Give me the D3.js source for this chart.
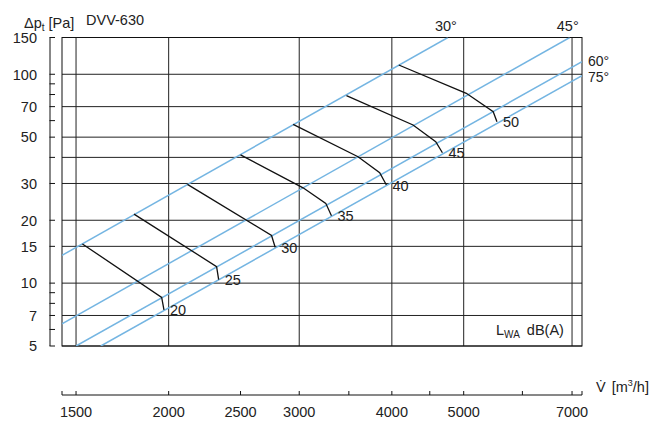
<!DOCTYPE html>
<html><head><meta charset="utf-8">
<script src="https://cdn.jsdelivr.net/npm/d3@7"></script>
<style>
body{margin:0;background:#fff}
text{font-family:"Liberation Sans Narrow","Arial Narrow","Liberation Sans",Arial,sans-serif;font-size:14.5px;fill:#222}
</style></head><body>
<svg id="c" width="667" height="423"></svg>
<script>
// ---- data ----
const yTickValues=[5,7,10,15,20,30,50,70,100,150];
const yMinorTicks=[6,8,9,40,60,80,90];
const yGridValues=[5,7,10,15,20,30,40,50,70,100,150];
const xTickLabels=[1500,2000,2500,3000,4000,5000,7000];
const xAxisTicks=[1500,2000,2500,3000,3500,4000,4500,5000,6000,7000];
const xGridValues=[1500,2000,3000,4000,5000,7000];
const bladeAngles=["30°","45°","60°","75°"];
const bladeLines=[
  [[1436,13.6],[4760,150]],
  [[1436,6.39],[6950,150]],
  [[1500,5],[7220,115]],
  [[1620,5],[7220,98.5]]
];
const soundLevels=[20,25,30,35,40,45,50];
const soundCurves=[
  [[1530,15.4],[1957,8.55],[1971,7.45]],
  [[1796,21.4],[2321,12.0],[2336,10.4]],
  [[2120,29.7],[2753,16.9],[2784,14.85]],
  [[2500,41.1],[3036,28.6],[3258,24.1],[3316,21.0]],
  [[2944,57.6],[3601,40.3],[3852,33.8],[3933,29.5]],
  [[3474,79.0],[4272,57.2],[4584,47.6],[4680,42.1]],
  [[4087,110.8],[5041,81.1],[5480,66.2],[5544,59.3]]
];
const xDomain=[1436,7220];
const yDomain=[5,150];

// ---- chart ----
const svg=d3.select("#c");
const L=62,R=582,T=37.5,B=346;
const x=d3.scaleLog().domain(xDomain).range([L,R]);
const y=d3.scaleLog().domain(yDomain).range([B,T]);
const blue="#74b5e2";

svg.append("defs").append("clipPath").attr("id","clip")
  .append("rect").attr("x",L).attr("y",T).attr("width",R-L).attr("height",B-T);

// grid
const g=svg.append("g");
g.selectAll(".hg").data(yGridValues).join("line")
  .attr("x1",L).attr("x2",R).attr("y1",d=>y(d)).attr("y2",d=>y(d))
  .attr("stroke","#222").attr("stroke-width",1);
g.selectAll(".vg").data(xGridValues).join("line")
  .attr("y1",T).attr("y2",B).attr("x1",d=>x(d)).attr("x2",d=>x(d))
  .attr("stroke","#222").attr("stroke-width",1);
g.append("rect").attr("x",L).attr("y",T).attr("width",R-L).attr("height",B-T)
  .attr("fill","none").attr("stroke","#111").attr("stroke-width",1);

// blade lines
const line=d3.line().x(d=>x(d[0])).y(d=>y(d[1]));
svg.append("g").attr("clip-path","url(#clip)")
  .selectAll("path").data(bladeLines).join("path")
  .attr("d",line).attr("fill","none").attr("stroke",blue).attr("stroke-width",1.5);

// blade labels
bladeLines.forEach((ln,i)=>{
  const e=ln[1];
  const px=x(e[0]), py=y(e[1]);
  const t=svg.append("text").text(bladeAngles[i]);
  if(e[1]>=150){ t.attr("x",px-2).attr("y",31).attr("text-anchor","middle"); }
  else { t.attr("x",px+6).attr("y",py+(i===2?4:6)).style("font-size","14px"); }
});

// sound curves
const sl=d3.line().x(d=>x(d[0])).y(d=>y(d[1])).curve(d3.curveLinear);
svg.append("g").selectAll("path").data(soundCurves).join("path")
  .attr("d",sl).attr("fill","none").attr("stroke","#111").attr("stroke-width",1.3);
svg.append("g").selectAll("text").data(soundCurves).join("text")
  .attr("x",d=>x(d[d.length-1][0])+6).attr("y",d=>y(d[d.length-1][1])+5.5)
  .text((d,i)=>soundLevels[i]);

// y axis
const ya=svg.append("g").attr("transform","translate(50,0)");
ya.append("line").attr("x1",0).attr("x2",0).attr("y1",T).attr("y2",B).attr("stroke","#111");
ya.selectAll(".yt").data(yTickValues.concat(yMinorTicks)).join("line")
  .attr("x1",-0.5).attr("x2",5).attr("y1",d=>y(d)).attr("y2",d=>y(d)).attr("stroke","#111");
ya.selectAll("text").data(yTickValues).join("text")
  .attr("x",-13).attr("y",d=>y(d)+5.3).attr("text-anchor","end").text(d=>d);

// lower x axis
const AY=395;
const xa=svg.append("g");
xa.append("line").attr("x1",L).attr("x2",R).attr("y1",AY).attr("y2",AY).attr("stroke","#111");
xa.selectAll(".xt").data(xAxisTicks.concat(xDomain)).join("line")
  .attr("x1",d=>x(d)).attr("x2",d=>x(d)).attr("y1",AY-4).attr("y2",AY).attr("stroke","#111");
xa.selectAll("text").data(xTickLabels).join("text")
  .attr("x",d=>x(d)).attr("y",417).attr("text-anchor","middle").text(d=>d);

// titles
const t1=svg.append("text").attr("x",24).attr("y",27.5);
t1.append("tspan").text("Δp");
t1.append("tspan").attr("dy",3).attr("font-size","10px").text("t");
t1.append("tspan").attr("dy",-3).text(" [Pa]");
svg.append("text").attr("x",86).attr("y",25).text("DVV-630");

const t2=svg.append("text").attr("x",496).attr("y",335);
t2.append("tspan").text("L");
t2.append("tspan").attr("dy",2.5).attr("font-size","10px").text("WA");
t2.append("tspan").attr("dy",-2.5).attr("dx",3).text(" dB(A)");

const t3=svg.append("text").attr("x",596).attr("y",392);
t3.append("tspan").text("V\u0307");
t3.append("tspan").attr("dx",6).text("[m");
t3.append("tspan").attr("dy",-6).attr("font-size","9px").text("3");
t3.append("tspan").attr("dy",6).text("/h]");
</script></body></html>
